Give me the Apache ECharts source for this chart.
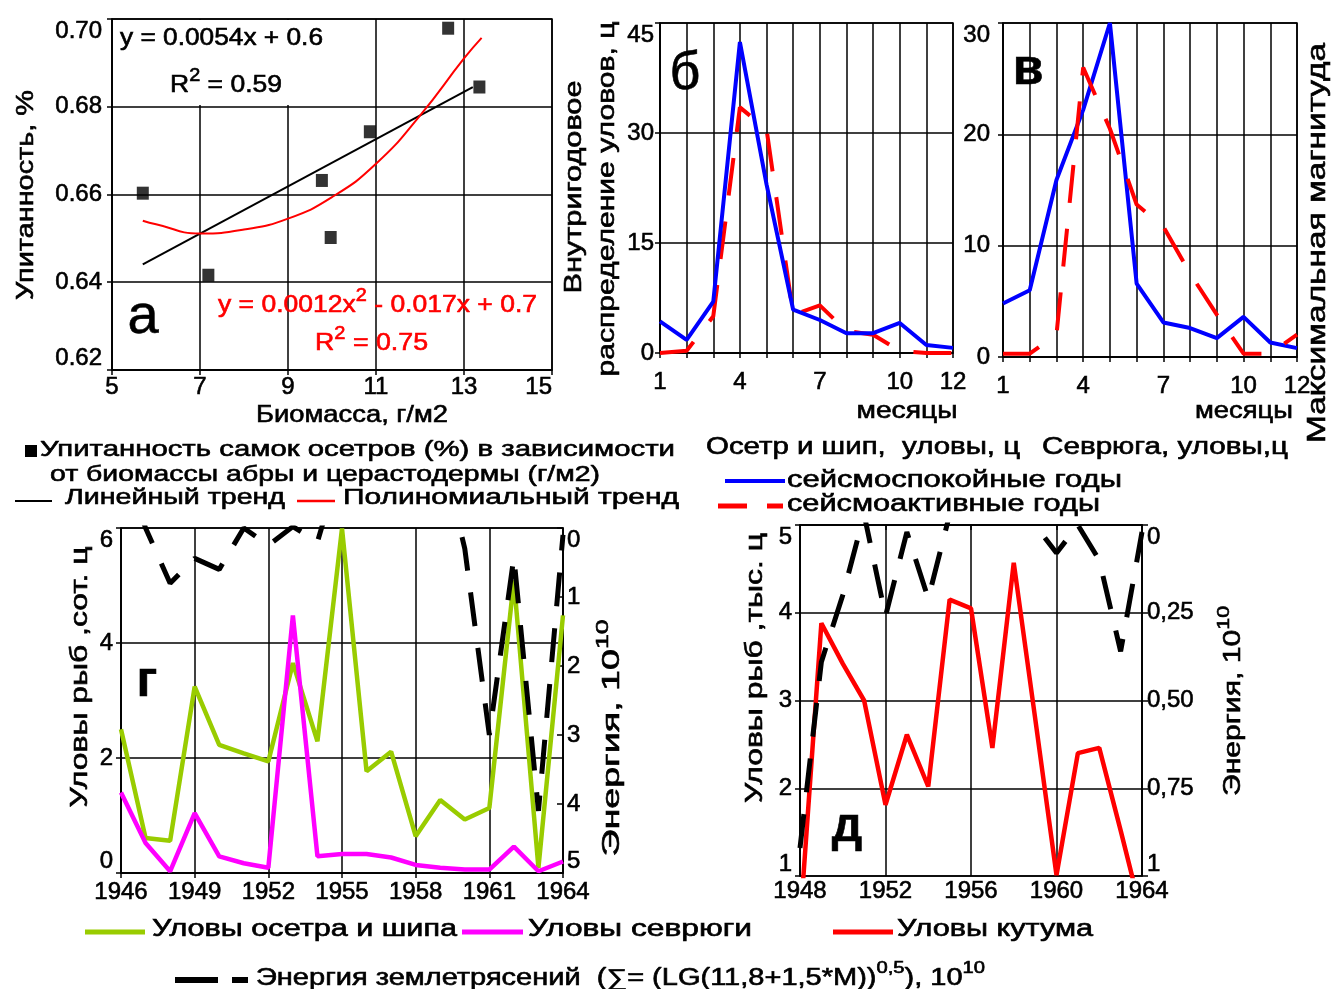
<!DOCTYPE html>
<html lang="ru">
<head>
<meta charset="utf-8" />
<script src="https://cdn.jsdelivr.net/npm/echarts@6.0.0/dist/echarts.min.js"></script>
</head>
<body style="margin: 0; background: #fff">
<div id="container" style="width: 1333px; height: 989px"></div>
<script>
// panel а: condition of sturgeon females vs biomass of abra and cerastoderma
var biomass = [5.7, 7.19, 9.77, 9.97, 10.86, 12.64, 13.35];
var fatness = [0.6603, 0.6416, 0.6632, 0.6502, 0.6743, 0.6979, 0.6845];
var linTrendX = [5.7, 13.2];
var linTrendY = [0.6441, 0.6845];
var polyTrendX = [5.7, 6, 7, 8, 9, 10, 11, 12, 13, 13.4];
var polyTrendY = [0.654, 0.6532, 0.6511, 0.652, 0.6545, 0.6594, 0.667, 0.678, 0.691, 0.6957];

// panels б, в: catch by month
var months = ['1', '2', '3', '4', '5', '6', '7', '8', '9', '10', '11', '12'];
var sturgeonCalm = [4.3, 1.8, 7, 42.4, 23, 5.9, 4.5, 2.7, 2.7, 4.1, 1.1, 0.7];
var sturgeonActive = [0, 0.3, 5, 33.5, 30.5, 5.2, 6.5, 3, 2.5, 0.3, 0, 0];
var sevrugaCalm = [4.8, 6, 15.9, 22.2, 30, 6.6, 3.1, 2.6, 1.7, 3.6, 1.3, 0.8];
var sevrugaActive = [0.3, 0.3, 2, 26, 20.5, 13.7, 11.7, 7.5, 3.8, 0.3, 0.3, 2];

// panel г: 1946-1964
var yearsG = ['1946', '1947', '1948', '1949', '1950', '1951', '1952', '1953', '1954', '1955',
  '1956', '1957', '1958', '1959', '1960', '1961', '1962', '1963', '1964'];
var sturgeonCatch = [2.5, 0.61, 0.56, 3.24, 2.23, 2.08, 1.94, 3.65, 2.29, 5.99,
  1.77, 2.11, 0.64, 1.27, 0.93, 1.13, 5.09, 0.09, 4.48];
var sevrugaCatch = [1.4, 0.52, 0.03, 1.04, 0.29, 0.17, 0.09, 4.48, 0.29, 0.33,
  0.33, 0.27, 0.14, 0.09, 0.06, 0.06, 0.46, 0.03, 0.2];
var energyG = [-1, 0, 0.8, 0.44, 0.6, 0, 0.25, -0.02, 0.2, -1,
  -1, -1, -1, -1.2, 0.3, 3.0, 0.42, 4.1, 0.1];

// panel д: 1948-1964
var yearsD = ['1948', '1949', '1950', '1951', '1952', '1953', '1954', '1955', '1956',
  '1957', '1958', '1959', '1960', '1961', '1962', '1963', '1964'];
var kutumCatch = [0.45, 3.88, 3.42, 3.0, 1.81, 2.61, 2.02, 4.15, 4.05,
  2.46, 4.57, 2.8, 1.01, 2.4, 2.46, 1.52, 0.55];
var energyD = [0.92, 0.39, 0.2, -0.03, 0.26, 0.02, 0.21, -0.03, -0.3,
  -0.3, -0.3, 0, 0.08, 0, 0.1, 0.36, 0.02];

var FONT = '"Liberation Sans", Arial, sans-serif';
var measureCtx = document.createElement('canvas').getContext('2d');
function textWidth(s, size, weight) {
  measureCtx.font = (weight || 'normal') + ' ' + size + 'px ' + FONT;
  return measureCtx.measureText(s).width;
}
// parts: [text, fontSize, shift across the text]; stretched to o.width
function textRun(parts, o) {
  var w = 0, kids = [];
  var color = o.color || '#000';
  parts.forEach(function (p) {
    kids.push({
      type: 'text', x: w, y: p[2] || 0, z: 10,
      style: {
        text: p[0], font: (o.weight || 'normal') + ' ' + p[1] + 'px ' + FONT,
        fill: color, stroke: color, lineWidth: 0.6,
        align: 'left', verticalAlign: 'middle',
        textAlign: 'left', textVerticalAlign: 'middle'
      }
    });
    w += textWidth(p[0], p[1], o.weight);
  });
  if (o.anchor === 'center') kids.forEach(function (k) { k.x -= w / 2; });
  return {
    type: 'group', x: o.x, y: o.y, rotation: o.rot || 0,
    scaleX: o.width ? o.width / w : 1, children: kids
  };
}
function hline(x1, x2, y, color, width, dash) {
  return {
    type: 'line', z: 10, shape: { x1: x1, y1: y, x2: x2, y2: y },
    style: { stroke: color, lineWidth: width, lineDash: dash || null }
  };
}
function pairs(xs, ys) { return xs.map(function (x, i) { return [x, ys[i]]; }); }

var UP = Math.PI / 2;
var black = { color: '#000', width: 1.5 };
var lab = { color: '#000', fontSize: 24, fontFamily: FONT, textBorderColor: '#000', textBorderWidth: 0.6 };

function valueAxis(grid, min, max, step, extra) {
  var ax = {
    gridIndex: grid, type: 'value', min: min, max: max, interval: step,
    axisLine: { show: true, lineStyle: black },
    axisTick: { show: true, length: 5, lineStyle: black },
    axisLabel: Object.assign({}, lab),
    splitLine: { show: true, lineStyle: black }
  };
  return echarts.util.merge(ax, extra || {}, true);
}
function catAxis(grid, data, extra) {
  var ax = {
    gridIndex: grid, type: 'category', data: data, boundaryGap: false,
    axisLine: { show: true, lineStyle: black },
    axisTick: { show: true, length: 5, lineStyle: black },
    axisLabel: Object.assign({}, lab),
    splitLine: { show: true, lineStyle: black }
  };
  return echarts.util.merge(ax, extra || {}, true);
}

var showMonth = function (i) { return [0, 3, 6, 9, 11].indexOf(i) >= 0; };
var gridBox = { show: true, borderColor: '#000', borderWidth: 1.5, backgroundColor: 'transparent' };

var option = {
  animation: false,
  backgroundColor: '#fff',
  grid: [
    Object.assign({ left: 112, top: 19, width: 440, height: 351 }, gridBox),
    Object.assign({ left: 660, top: 23, width: 293, height: 330 }, gridBox),
    Object.assign({ left: 1003, top: 23, width: 294, height: 334 }, gridBox),
    Object.assign({ left: 121, top: 528, width: 442, height: 345 }, gridBox),
    Object.assign({ left: 800, top: 525, width: 342, height: 351 }, gridBox)
  ],
  xAxis: [
    valueAxis(0, 5, 15, 2, { axisLabel: { margin: 5, alignMaxLabel: 'right' } }),
    catAxis(1, months, { axisLabel: { margin: 17, interval: showMonth }, axisTick: { interval: 0 }, splitLine: { interval: 0 } }),
    catAxis(2, months, { axisLabel: { margin: 17, interval: showMonth }, axisTick: { interval: 0 }, splitLine: { interval: 0 } }),
    catAxis(3, yearsG, { axisLabel: { margin: 7, interval: 2 }, axisTick: { interval: 2 }, splitLine: { interval: 2 } }),
    catAxis(4, yearsD, { axisLabel: { margin: 3, interval: 3 }, axisTick: { interval: 3 }, splitLine: { interval: 3 } })
  ],
  yAxis: [
    valueAxis(0, 0.62, 0.70, 0.02, {
      axisLabel: { margin: 10, formatter: function (v) { return v.toFixed(2); },
        verticalAlignMaxLabel: 'top', verticalAlignMinLabel: 'bottom' }
    }),
    valueAxis(1, 0, 45, 15, { axisLabel: { margin: 6, verticalAlignMaxLabel: 'top' } }),
    valueAxis(2, 0, 30, 10, { axisLabel: { margin: 13, verticalAlignMaxLabel: 'top' } }),
    valueAxis(3, 0, 6, 2, { axisLabel: { margin: 8, verticalAlignMaxLabel: 'top', verticalAlignMinLabel: 'bottom' } }),
    valueAxis(3, 0, 5, 1, {
      position: 'right', inverse: true, splitLine: { show: false },
      axisTick: { inside: true, length: 6 },
      axisLabel: { margin: 4, verticalAlignMinLabel: 'top', verticalAlignMaxLabel: 'bottom' }
    }),
    valueAxis(4, 1, 5, 1, { axisLabel: { margin: 8, verticalAlignMaxLabel: 'top', verticalAlignMinLabel: 'bottom' } }),
    valueAxis(4, 0, 1, 0.25, {
      position: 'right', inverse: true, splitLine: { show: false },
      axisTick: { length: 6 },
      axisLabel: {
        margin: 5, verticalAlignMinLabel: 'top', verticalAlignMaxLabel: 'bottom',
        formatter: function (v) { return (v === 0 || v === 1) ? String(v) : v.toFixed(2).replace('.', ','); }
      }
    })
  ],
  series: [
    { type: 'line', xAxisIndex: 0, yAxisIndex: 0, data: pairs(linTrendX, linTrendY),
      symbol: 'none', lineStyle: { color: '#000', width: 2 } },
    { type: 'line', xAxisIndex: 0, yAxisIndex: 0, data: pairs(polyTrendX, polyTrendY), smooth: true,
      symbol: 'none', lineStyle: { color: '#ff0000', width: 2 } },
    { type: 'scatter', xAxisIndex: 0, yAxisIndex: 0, data: pairs(biomass, fatness), z: 4,
      symbol: 'rect', symbolSize: [12, 13], itemStyle: { color: '#000' } },

    { type: 'line', xAxisIndex: 1, yAxisIndex: 1, data: sturgeonActive, symbol: 'none',
      lineStyle: { color: '#ff0000', width: 4, type: [38, 26] } },
    { type: 'line', xAxisIndex: 1, yAxisIndex: 1, data: sturgeonCalm, symbol: 'none',
      lineStyle: { color: '#0000ff', width: 4 } },
    { type: 'line', xAxisIndex: 2, yAxisIndex: 2, data: sevrugaCalm, symbol: 'none',
      lineStyle: { color: '#0000ff', width: 4 } },
    { type: 'line', xAxisIndex: 2, yAxisIndex: 2, data: sevrugaActive, symbol: 'none',
      lineStyle: { color: '#ff0000', width: 4, type: [38, 26] } },

    { type: 'line', xAxisIndex: 3, yAxisIndex: 3, data: sturgeonCatch, symbol: 'none',
      lineStyle: { color: '#99cc00', width: 4.5 } },
    { type: 'line', xAxisIndex: 3, yAxisIndex: 3, data: sevrugaCatch, symbol: 'none',
      lineStyle: { color: '#ff00ff', width: 4.5 } },
    { type: 'line', xAxisIndex: 3, yAxisIndex: 4, data: energyG, symbol: 'none',
      lineStyle: { color: '#000', width: 5, type: [34, 22] } },

    { type: 'line', xAxisIndex: 4, yAxisIndex: 5, data: kutumCatch, symbol: 'none',
      lineStyle: { color: '#ff0000', width: 4.5 } },
    { type: 'line', xAxisIndex: 4, yAxisIndex: 6, data: energyD, symbol: 'none',
      lineStyle: { color: '#000', width: 5, type: [34, 22] } }
  ],
  graphic: {
    elements: [
      // panel а
      { type: 'rect', z: 5, shape: { x: 113, y: 20, width: 214, height: 85 }, style: { fill: '#fff' } },
      textRun([['y = 0.0054x + 0.6', 24]], { x: 120, y: 38, width: 203 }),
      textRun([['R', 24], ['2', 18, -9], [' = 0.59', 24]], { x: 170, y: 85, width: 112 }),
      textRun([['y = 0.0012x', 24], ['2', 18, -9], [' - 0.017x + 0.7', 24]], { x: 218, y: 305, width: 319, color: '#ff0000' }),
      textRun([['R', 24], ['2', 18, -9], [' = 0.75', 24]], { x: 315, y: 343, width: 113, color: '#ff0000' }),
      textRun([['а', 56]], { x: 143, y: 318, anchor: 'center' }),
      textRun([['Биомасса, г/м2', 24]], { x: 352, y: 415, width: 192, anchor: 'center' }),
      textRun([['Упитанность, %', 24]], { x: 26, y: 195, width: 210, anchor: 'center', rot: UP }),

      // legend а
      { type: 'rect', z: 10, shape: { x: 25, y: 445, width: 12, height: 12 }, style: { fill: '#000' } },
      textRun([['Упитанность самок осетров (%) в зависимости', 22]], { x: 40, y: 450, width: 635 }),
      textRun([['от биомассы абры и церастодермы (г/м2)', 22]], { x: 50, y: 475, width: 550 }),
      hline(15, 52, 501, '#000', 2),
      textRun([['Линейный тренд', 22]], { x: 65, y: 498, width: 220 }),
      hline(297, 335, 501, '#ff0000', 2.5),
      textRun([['Полиномиальный тренд', 22]], { x: 343, y: 498, width: 336 }),

      // panels б, в
      textRun([['б', 54]], { x: 685, y: 74, anchor: 'center' }),
      textRun([['Внутригодовое', 24]], { x: 574, y: 187, width: 213, anchor: 'center', rot: UP }),
      textRun([['распределение уловов, ц', 24]], { x: 607, y: 199, width: 355, anchor: 'center', rot: UP }),
      textRun([['месяцы', 24]], { x: 907, y: 411, width: 101, anchor: 'center' }),
      textRun([['в', 50]], { x: 1028, y: 70, anchor: 'center', weight: 'bold' }),
      textRun([['месяцы', 24]], { x: 1244, y: 411, width: 98, anchor: 'center' }),
      textRun([['Максимальная магнитуда', 26]], { x: 1318, y: 243, width: 400, anchor: 'center', rot: UP }),

      // legend б, в
      textRun([['Осетр и шип,  уловы, ц', 23]], { x: 706, y: 448, width: 314 }),
      textRun([['Севрюга, уловы,ц', 23]], { x: 1042, y: 448, width: 246 }),
      hline(725, 785, 481, '#0000ff', 4),
      textRun([['сейсмоспокойные годы', 23]], { x: 787, y: 481, width: 335 }),
      hline(718, 747, 506, '#ff0000', 5),
      hline(767, 783, 506, '#ff0000', 5),
      textRun([['сейсмоактивные годы', 23]], { x: 787, y: 505, width: 313 }),

      // panel г
      textRun([['г', 50]], { x: 147, y: 682, anchor: 'center', weight: 'bold' }),
      textRun([['Уловы рыб ,сот. ц', 24]], { x: 80, y: 677, width: 261, anchor: 'center', rot: UP }),
      textRun([['Энергия, 10', 24], ['10', 17, -9]], { x: 612, y: 738, width: 237, anchor: 'center', rot: UP }),

      // panel д
      textRun([['д', 48]], { x: 847, y: 828, anchor: 'center', weight: 'bold' }),
      textRun([['Уловы рыб ,тыс. ц', 24]], { x: 755, y: 668, width: 270, anchor: 'center', rot: UP }),
      textRun([['Энергия, 10', 24], ['10', 17, -9]], { x: 1233, y: 701, width: 190, anchor: 'center', rot: UP }),

      // bottom legend
      hline(85, 145, 932, '#99cc00', 5),
      textRun([['Уловы осетра и шипа', 23]], { x: 152, y: 930, width: 305 }),
      hline(462, 523, 932, '#ff00ff', 5),
      textRun([['Уловы севрюги', 23]], { x: 528, y: 930, width: 224 }),
      hline(833, 893, 932, '#ff0000', 5),
      textRun([['Уловы кутума', 23]], { x: 897, y: 930, width: 196 }),
      hline(175, 218, 980, '#000', 6),
      hline(232, 248, 980, '#000', 6),
      textRun([['Энергия землетрясений  (∑= (LG(11,8+1,5*M))', 23], ['0,5', 16, -10], ['), 10', 23], ['10', 16, -10]],
        { x: 256, y: 979, width: 729 })
    ]
  }
};

var myChart = echarts.init(document.getElementById('container'), null, { renderer: 'canvas' });
myChart.setOption(option);
</script>
</body>
</html>
